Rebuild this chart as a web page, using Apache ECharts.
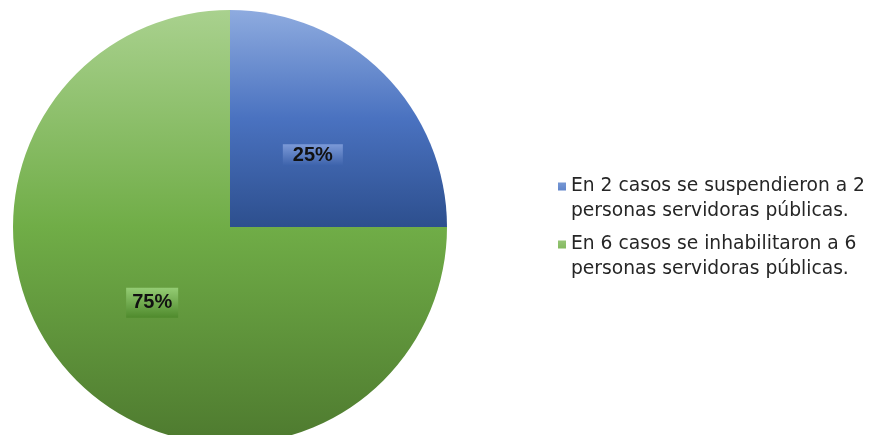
<!DOCTYPE html>
<html>
<head>
<meta charset="utf-8">
<script src="https://cdn.jsdelivr.net/npm/echarts@6/dist/echarts.min.js"></script>
<style>
html,body{margin:0;padding:0;background:#fff;}
#main{width:874px;height:435px;}
</style>
</head>
<body>
<div id="main"></div>
<script>
var categories = [
  'En 2 casos se suspendieron a 2 personas servidoras públicas.',
  'En 6 casos se inhabilitaron a 6 personas servidoras públicas.'
];
var legendLines = [
  ['En 2 casos se suspendieron a 2', 'personas servidoras públicas.'],
  ['En 6 casos se inhabilitaron a 6', 'personas servidoras públicas.']
];
var values = [2, 6];
var percentLabels = ['25%', '75%'];

var G = echarts.graphic.LinearGradient;
var sliceColors = [
  new G(0, 0, 0, 1, [{offset: 0, color: '#8eabdf'}, {offset: 0.5, color: '#4a72c0'}, {offset: 1, color: '#2d4f8e'}]),
  new G(0, 0, 0, 1, [{offset: 0, color: '#a9d18e'}, {offset: 0.5, color: '#70ad47'}, {offset: 1, color: '#4e7a2f'}])
];
var labelBg = [
  new G(0, 0, 0, 1, [{offset: 0, color: '#7c9ad8'}, {offset: 1, color: '#3b61aa'}]),
  new G(0, 0, 0, 1, [{offset: 0, color: '#94cc74'}, {offset: 1, color: '#4f8a2c'}])
];

var chart = echarts.init(document.getElementById('main'), null, {renderer: 'canvas'});
chart.setOption({
  animation: false,
  legend: {
    orient: 'vertical',
    left: 553,
    top: 169,
    padding: 5,
    itemWidth: 8,
    itemHeight: 50,
    itemGap: 8,
    icon: 'path://M0,8.5h8v8h-8z M0,0h0.01v0.01h-0.01z M0,50h0.01v-0.01h-0.01z',
    data: categories,
    formatter: function (name) {
      var i = categories.indexOf(name);
      return legendLines[i].join('\n');
    },
    textStyle: {
      fontFamily: '"DejaVu Sans", sans-serif',
      fontSize: 18.7,
      lineHeight: 25,
      color: '#262626'
    }
  },
  series: [{
    type: 'pie',
    center: [230, 227],
    radius: 217,
    startAngle: 90,
    clockwise: true,
    silent: true,
    label: {
      show: true,
      position: 'inside',
      fontFamily: '"Liberation Sans", "DejaVu Sans", sans-serif',
      fontWeight: 'bold',
      fontSize: 20,
      color: '#111'
    },
    labelLine: {show: false},
    data: categories.map(function (c, i) {
      return {
        name: c,
        value: values[i],
        itemStyle: {color: sliceColors[i]},
        label: {
          formatter: percentLabels[i],
          backgroundColor: labelBg[i],
          offset: i === 0 ? [4, 7] : [1, -3],
          padding: i === 0 ? [1, 10] : [5, 6]
        }
      };
    })
  }]
});
</script>
</body>
</html>
